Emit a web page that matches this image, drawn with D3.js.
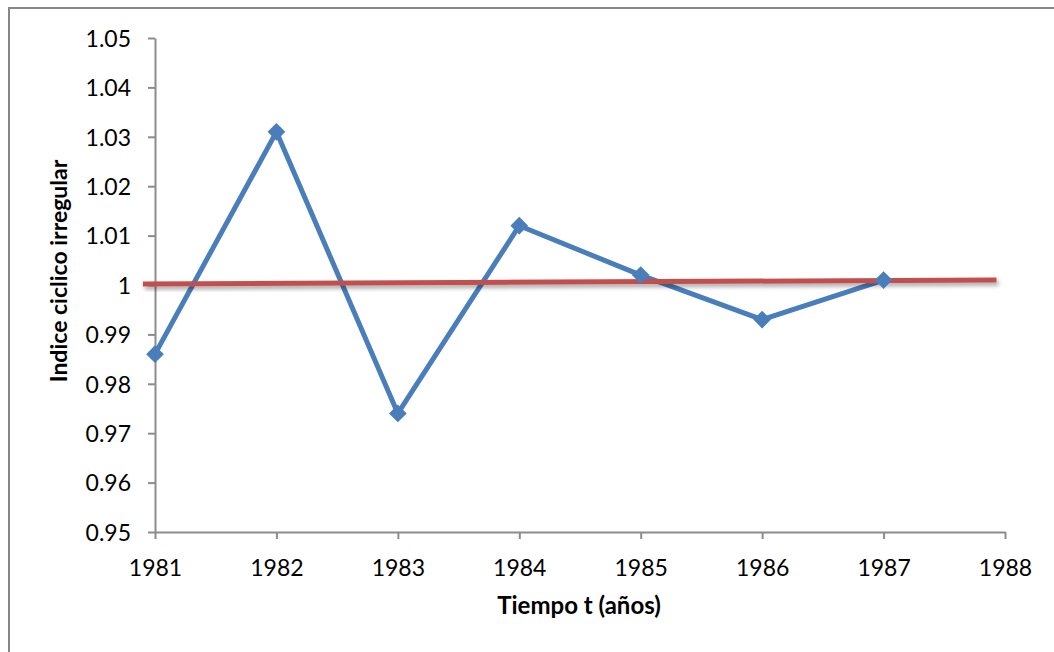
<!DOCTYPE html>
<html>
<head>
<meta charset="utf-8">
<script src="https://d3js.org/d3.v7.min.js"></script>
<style>
	body { margin: 0; background: #fff; }
	svg text { font-family: Lato, "Open Sans", sans-serif; }
</style>
</head>
<body>
<div id="chart"></div>
<script>
/*	Data ----------------------------------------------------------------------*/
var years = [1981, 1982, 1983, 1984, 1985, 1986, 1987];
var indice = [0.986, 1.031, 0.974, 1.012, 1.002, 0.993, 1.001];
var trendX = [1980.9, 1987.93];
var trendY = [1.0002, 1.0010];
var xTicks = [1981, 1982, 1983, 1984, 1985, 1986, 1987, 1988];
var yTicks = [0.95, 0.96, 0.97, 0.98, 0.99, 1, 1.01, 1.02, 1.03, 1.04, 1.05];

var width = 1054, height = 652;
var padding = {left: 155, right: 49, top: 38, bottom: 120};

var svg = d3.select("#chart").append("svg")
	.attr("width", width)
	.attr("height", height);

/*	Outer frame ---------------------------------------------------------------*/
svg.append("rect")
	.attr("x", 9).attr("y", 8)
	.attr("width", width + 20).attr("height", height + 20)
	.style("fill", "none")
	.style("stroke", "#878787")
	.style("stroke-width", "2");

var xScale = d3.scaleLinear().domain([1981, 1988]).range([padding.left, width - padding.right]);
var yScale = d3.scaleLinear().domain([0.95, 1.05]).range([height - padding.bottom, padding.top]);

/*	Axes ----------------------------------------------------------------------*/
var xAxis = d3.axisBottom(xScale).tickValues(xTicks).tickFormat(d3.format("d")).tickSize(7).tickSizeOuter(0);
var yAxis = d3.axisLeft(yScale).tickValues(yTicks).tickFormat(function(d){ return String(+d.toFixed(2)); }).tickSize(7).tickSizeOuter(0);

var gx = svg.append("g")
	.attr("transform", "translate(0," + (height - padding.bottom) + ")")
	.call(xAxis);
var gy = svg.append("g")
	.attr("transform", "translate(" + padding.left + ",0)")
	.call(yAxis);

[gx, gy].forEach(function(g){
	g.select(".domain").style("stroke", "#8c8c8c").style("stroke-width", "2");
	g.selectAll("g.tick line").style("stroke", "#8c8c8c").style("stroke-width", "2");
	g.selectAll("g.tick text")
		.style("font-size", "23px")
		.style("fill", "#000");
});
gx.selectAll("g.tick text").attr("y", 0).attr("dy", "44px");
gy.selectAll("g.tick text").attr("x", -24).attr("dy", "0.36em");

/*	Axis titles ---------------------------------------------------------------*/
svg.append("text")
	.attr("x", 579)
	.attr("y", 614)
	.attr("text-anchor", "middle")
	.style("font-size", "24px")
	.style("font-weight", "bold")
	.text("Tiempo t (años)");

svg.append("text")
	.attr("text-anchor", "middle")
	.attr("transform", "translate(67,271)rotate(-90)")
	.style("font-size", "23px")
	.style("font-weight", "bold")
	.text("Indice ciclico irregular");

/*	Series line ---------------------------------------------------------------*/
var line = d3.line()
	.x(function(d, i){ return xScale(years[i]); })
	.y(function(d){ return yScale(d); });

svg.append("path")
	.datum(indice)
	.attr("d", line)
	.style("fill", "none")
	.style("stroke", "#4a7ebb")
	.style("stroke-width", "5")
	.style("stroke-linejoin", "round");

/*	Trend line with a soft shadow --------------------------------------------*/
var defs = svg.append("defs");
var f = defs.append("filter").attr("id", "shadow").attr("x", "-5%").attr("y", "-200%").attr("width", "110%").attr("height", "500%");
f.append("feDropShadow").attr("dx", 2).attr("dy", 3).attr("stdDeviation", 2).attr("flood-color", "#000").attr("flood-opacity", 0.35);

var trendLine = d3.line()
	.x(function(d, i){ return xScale(trendX[i]); })
	.y(function(d){ return yScale(d); });

svg.append("path")
	.datum(trendY)
	.attr("d", trendLine)
	.attr("filter", "url(#shadow)")
	.style("fill", "none")
	.style("stroke", "#c0504d")
	.style("stroke-width", "5");

/*	Diamond markers -----------------------------------------------------------*/
svg.selectAll(".marker")
	.data(indice)
	.enter()
	.append("path")
	.attr("class", "marker")
	.attr("d", d3.symbol().type(d3.symbolDiamond2).size(200))
	.attr("transform", function(d, i){
		return "translate(" + xScale(years[i]) + "," + yScale(d) + ")";
	})
	.style("fill", "#4a7ebb");
</script>
</body>
</html>
